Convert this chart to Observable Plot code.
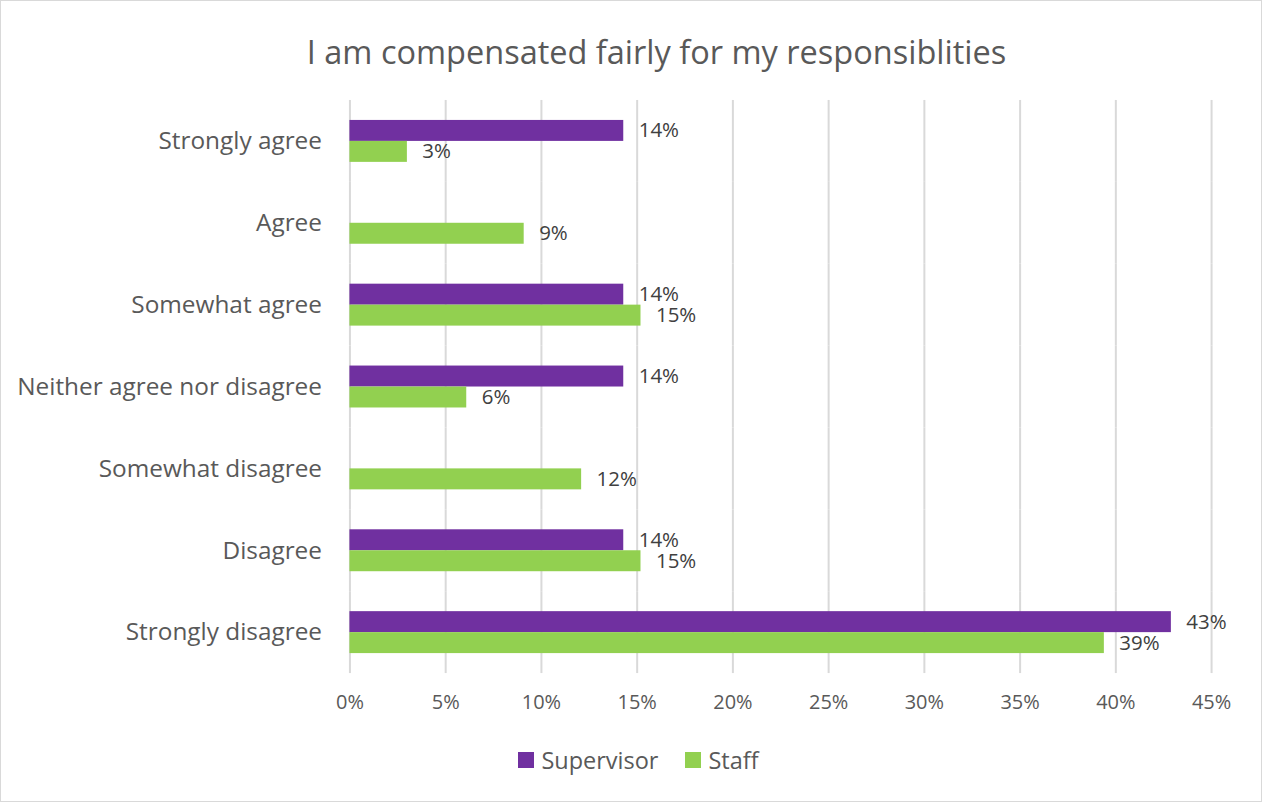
<!DOCTYPE html>
<html>
<head>
<meta charset="utf-8">
<script src="https://cdn.jsdelivr.net/npm/d3@7"></script>
<script src="https://cdn.jsdelivr.net/npm/@observablehq/plot@0.6"></script>
<style>
  html, body { margin: 0; padding: 0; background: #fff; }
  #frame { position: relative; width: 1262px; height: 802px; box-sizing: border-box; border: 1px solid #d9d9d9; background: #fff; font-family: "Open Sans", sans-serif; overflow: hidden; }
  #title { position: absolute; left: 24px; top: 29px; width: 1263px; text-align: center; font-size: 32.5px; color: #595959; line-height: 44px; }
  #chart { position: absolute; left: -1px; top: 79px; }
  #legend { position: absolute; left: 6px; top: 743px; width: 1263px; display: flex; justify-content: center; gap: 27px; font-size: 23.5px; color: #595959; }
  #legend .item { display: flex; align-items: center; }
  #legend .sw { width: 16px; height: 16px; margin-right: 7px; }
</style>
</head>
<body>
<div id="frame">
  <div id="title">I am compensated fairly for my responsiblities</div>
  <div id="chart"></div>
  <div id="legend"></div>
</div>
<script>
const categories = ["Strongly agree", "Agree", "Somewhat agree", "Neither agree nor disagree", "Somewhat disagree", "Disagree", "Strongly disagree"];
const series = ["Supervisor", "Staff"];
const supervisorValues = [0.143, 0, 0.143, 0.143, 0, 0.143, 0.429];
const staffValues = [0.030, 0.091, 0.152, 0.061, 0.121, 0.152, 0.394];
const xTicks = [0, 0.05, 0.10, 0.15, 0.20, 0.25, 0.30, 0.35, 0.40, 0.45];
const colors = ["#7030A0", "#92D050"];

const data = [];
categories.forEach((c, i) => {
  if (supervisorValues[i] > 0) data.push({category: c, series: "Supervisor", value: supervisorValues[i]});
  if (staffValues[i] > 0) data.push({category: c, series: "Staff", value: staffValues[i]});
});

const pct = d => Math.round(d * 100) + "%";

const chart = Plot.plot({
  width: 1263,
  height: 661,
  marginLeft: 350,
  marginRight: 50,
  marginTop: 19,
  marginBottom: 66,
  style: {fontFamily: "Open Sans, sans-serif", fontSize: "20px", color: "#595959", background: "transparent"},
  x: {domain: [0, 0.45], label: null},
  y: {domain: series, axis: null, paddingInner: 0, paddingOuter: 0.9},
  fy: {domain: categories, padding: 0, label: null},
  color: {domain: series, range: colors},
  marks: [
    Plot.gridX(xTicks, {stroke: "#d9d9d9", strokeOpacity: 1, strokeWidth: 2}),
    Plot.barX(data, {x: "value", y: "series", fy: "category", fill: "series"}),
    Plot.text(data, {x: "value", y: "series", fy: "category", text: d => pct(d.value), dx: 15, textAnchor: "start", fill: "#404040", fontSize: 20.5}),
    Plot.axisX({ticks: xTicks, tickFormat: pct, tickSize: 0, tickPadding: 21, fontSize: 20, label: null}),
    Plot.axisFy({anchor: "left", tickSize: 0, tickPadding: 28, fontSize: 24.4, label: null})
  ]
});
document.getElementById("chart").appendChild(chart);

const legend = document.getElementById("legend");
series.forEach((s, i) => {
  const item = document.createElement("div");
  item.className = "item";
  const sw = document.createElement("span");
  sw.className = "sw";
  sw.style.background = colors[i];
  const t = document.createElement("span");
  t.textContent = s;
  item.appendChild(sw);
  item.appendChild(t);
  legend.appendChild(item);
});
</script>
</body>
</html>
